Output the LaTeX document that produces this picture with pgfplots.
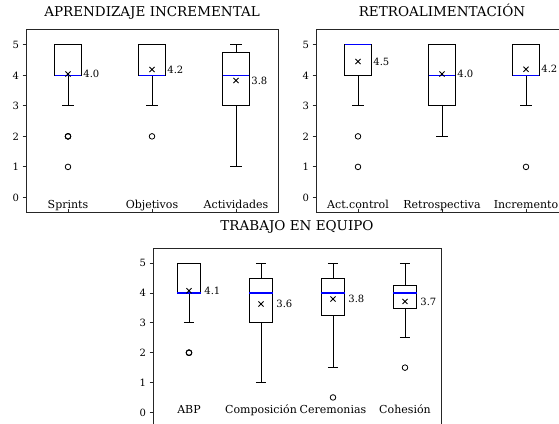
\documentclass[border=0pt]{standalone}
\usepackage{fontspec}
\setmainfont{DejaVu Serif}
\usepackage{pgfplots}
\pgfplotsset{compat=1.18}
\usepgfplotslibrary{statistics}
\pgfplotsset{
  myax/.style={
    scale only axis,
    ymin=-0.5, ymax=5.5,
    ytick={0,1,2,3,4,5},
    axis line style={black!85, line width=0.8pt},
    tick align=outside,
    major tick length=3.5pt,
    xtick pos=lower, ytick pos=left,
    ytick style={black!85, line width=0.8pt},
    xtick style={black!85, line width=0.8pt, yshift=3.5pt},
    /pgf/number format/assume math mode=true,
    yticklabel style={font=\fontsize{10}{12}\selectfont},
    xticklabel style={font=\fontsize{11}{13}\selectfont, anchor=base, yshift=8pt},
    title style={font=\fontsize{13.5}{16}\selectfont, at={(0.5,1)}, anchor=base, yshift=6.5pt},
    boxplot/draw direction=y,
    boxplot/box extend=0.32,
    boxplot/whisker extend=0.14,
    boxplot/every median/.style={draw=blue, line width=1.1pt},
    boxplot/every box/.style={draw=black, line width=0.9pt},
    boxplot/every whisker/.style={draw=black, line width=0.9pt},
  },
  bx/.style={black, solid, mark=o, mark size=2.8pt, mark options={black, solid, line width=0.8pt}},
  meanplot/.style={only marks, mark=x, mark size=3.6pt, black, mark options={line width=0.9pt},
    nodes near coords, point meta=explicit symbolic,
    every node near coord/.style={anchor=west, xshift=15pt, inner sep=0pt, font=\fontsize{10}{12}\selectfont, black}},
}
\begin{document}
\begin{tikzpicture}
\useasboundingbox (0pt,0pt) rectangle (559pt,423pt);
\clip (0pt,0pt) rectangle (559pt,423pt);
% ---------- Panel 1
\begin{axis}[myax, at={(26pt,393.5pt)}, anchor=north west, width=252pt, height=183.2pt,
  xmin=0.5, xmax=3.5, xtick={1,2,3}, xticklabels={Sprints,Objetivos,Actividades},
  title={APRENDIZAJE INCREMENTAL}]
\addplot[bx, boxplot prepared={draw position=1, median=4, lower quartile=4, upper quartile=5, lower whisker=3, upper whisker=5}]
  table[row sep=\\, y index=0] {y\\ 2\\ 2\\ 2\\ 1\\};
\addplot[bx, boxplot prepared={draw position=2, median=4, lower quartile=4, upper quartile=5, lower whisker=3, upper whisker=5}]
  table[row sep=\\, y index=0] {y\\ 2\\};
\addplot[bx, boxplot prepared={draw position=3, median=4, lower quartile=3, upper quartile=4.75, lower whisker=1, upper whisker=5}]
  coordinates {};
\addplot[meanplot] table[meta=lab] {
x y lab
1 4.04 4.0
2 4.19 4.2
3 3.83 3.8
};
\end{axis}
% ---------- Panel 2
\begin{axis}[myax, at={(316pt,393.5pt)}, anchor=north west, width=252pt, height=183.2pt,
  xmin=0.5, xmax=3.5, xtick={1,2,3}, xticklabels={Act.control,Retrospectiva,Incremento},
  title={RETROALIMENTACIÓN}]
\addplot[bx, boxplot prepared={draw position=1, median=5, lower quartile=4, upper quartile=5, lower whisker=3, upper whisker=5}]
  table[row sep=\\, y index=0] {y\\ 2\\ 1\\};
\addplot[bx, boxplot prepared={draw position=2, median=4, lower quartile=3, upper quartile=5, lower whisker=2, upper whisker=5}]
  coordinates {};
\addplot[bx, boxplot prepared={draw position=3, median=4, lower quartile=4, upper quartile=5, lower whisker=3, upper whisker=5}]
  table[row sep=\\, y index=0] {y\\ 1\\};
\addplot[meanplot] table[meta=lab] {
x y lab
1 4.45 4.5
2 4.04 4.0
3 4.20 4.2
};
\end{axis}
% ---------- Panel 3
\begin{axis}[myax, at={(153pt,174.7pt)}, anchor=north west, width=288pt, height=179pt,
  xmin=0.5, xmax=4.5, xtick={1,2,3,4}, xticklabels={ABP,Composición,Ceremonias,Cohesión},
  xticklabel style={yshift=9.6pt},
  title style={yshift=5.5pt},
  title={TRABAJO EN EQUIPO}]
\addplot[bx, boxplot prepared={draw position=1, median=4, lower quartile=4, upper quartile=5, lower whisker=3, upper whisker=5}]
  table[row sep=\\, y index=0] {y\\ 2\\ 2\\ 2\\};
\addplot[bx, boxplot prepared={draw position=2, median=4, lower quartile=3, upper quartile=4.5, lower whisker=1, upper whisker=5}]
  coordinates {};
\addplot[bx, boxplot prepared={draw position=3, median=4, lower quartile=3.25, upper quartile=4.5, lower whisker=1.5, upper whisker=5}]
  table[row sep=\\, y index=0] {y\\ 0.5\\};
\addplot[bx, boxplot prepared={draw position=4, median=4, lower quartile=3.5, upper quartile=4.25, lower whisker=2.5, upper whisker=5}]
  table[row sep=\\, y index=0] {y\\ 1.5\\};
\addplot[meanplot] table[meta=lab] {
x y lab
1 4.08 4.1
2 3.63 3.6
3 3.80 3.8
4 3.72 3.7
};
\end{axis}
\end{tikzpicture}
\end{document}
